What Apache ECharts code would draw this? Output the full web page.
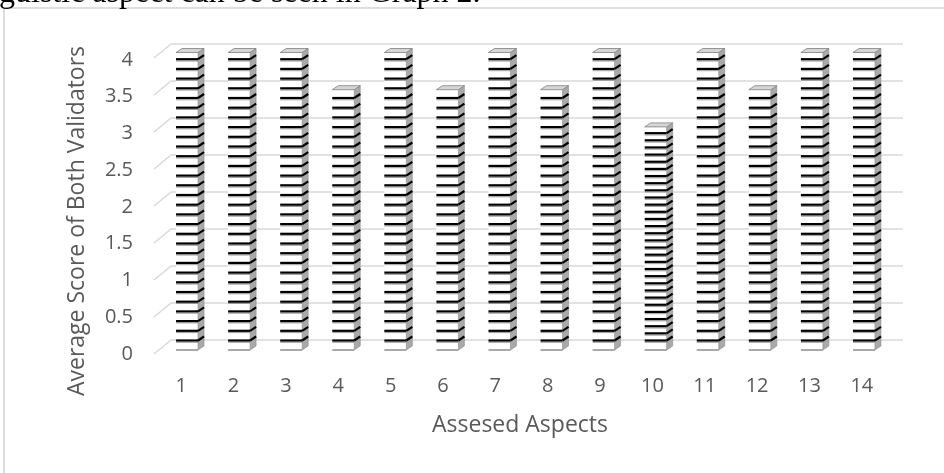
<!DOCTYPE html>
<html>
<head>
<meta charset="utf-8">
<script src="https://cdn.jsdelivr.net/npm/echarts@6/dist/echarts.min.js"></script>
<style>
    html, body { margin: 0; padding: 0; background: #fff; }
    #chart { width: 944px; height: 473px; }
</style>
</head>
<body>
<div id="chart"></div>
<script>
// data
const aspects = ['1', '2', '3', '4', '5', '6', '7', '8', '9', '10', '11', '12', '13', '14'];
const avgScores = [4, 4, 4, 3.5, 4, 3.5, 4, 3.5, 4, 3, 4, 3.5, 4, 4];
const yTicks = [0, 0.5, 1, 1.5, 2, 2.5, 3, 3.5, 4];

// look
const textColor = '#595959';
const gridColor = '#d9d9d9';
const font = 'Open Sans';
const fontSize = 20;
const titleSize = 23;
// stripe spacing of the hatch fill, bar 10 is drawn denser in the original
const stripeGap = { 9: 7.15 };

const chart = echarts.init(document.getElementById('chart'));

// 3d-ish column: white front with black stripes, grey side, grey top
const renderBar = (params, api) => {
    const i = api.value(0);
    const top = api.coord([i, api.value(1)]);
    const base = api.coord([i, 0]);
    const l = top[0] - 11, r = top[0] + 11;
    const yt = top[1], yb = base[1];
    const sx = 6, sy = -4;
    const children = [
        { type: 'rect', shape: { x: l, y: yt, width: r - l, height: yb - yt }, style: { fill: '#fff' } },
        {
            type: 'polygon',
            shape: { points: [[r, yt], [r + sx, yt + sy], [r + sx, yb + sy], [r, yb]] },
            style: { fill: '#a9a9a9', stroke: '#8c8c8c', lineWidth: 0.6 }
        },
        {
            type: 'polygon',
            shape: { points: [[l, yt], [l + sx, yt + sy], [r + sx, yt + sy], [r, yt]] },
            style: { fill: '#d6d6d6', stroke: '#7f7f7f', lineWidth: 0.8 }
        }
    ];
    const gap = stripeGap[i] || 9.7;
    for (let y = yb - 9.5; y > yt + 4; y -= gap) {
        // soft grey shadow under each stripe
        children.push({ type: 'line', shape: { x1: l, y1: y + 1.8, x2: r, y2: y + 1.8 }, style: { stroke: '#9a9a9a', lineWidth: 1 } });
        children.push({ type: 'line', shape: { x1: l, y1: y, x2: r, y2: y }, style: { stroke: '#000', lineWidth: 2.2 } });
        children.push({ type: 'line', shape: { x1: r, y1: y, x2: r + sx, y2: y + sy }, style: { stroke: '#000', lineWidth: 2.2 } });
    }
    children.push({ type: 'line', shape: { x1: l, y1: yb, x2: r, y2: yb }, style: { stroke: '#8c8c8c', lineWidth: 1.5 } });
    return { type: 'group', children };
};

// short floor lines from the front edge up to the back wall gridlines
const renderFloorTick = (params, api) => {
    const p = api.coord([0, api.value(1)]);
    const x0 = params.coordSys.x;
    return {
        type: 'line',
        shape: { x1: x0 - 17, y1: p[1] + 14, x2: x0, y2: p[1] },
        style: { stroke: gridColor, lineWidth: 1.5 }
    };
};

const option = {
    animation: false,
    backgroundColor: '#fff',
    textStyle: { fontFamily: font },
    grid: [
        // front edge: labels
        { left: 155, right: 56, top: 60, bottom: 119 },
        // back wall: gridlines
        { left: 171, right: 41, top: 44, bottom: 133 },
        // plane of the bar fronts
        { left: 161, right: 54, top: 52.5, bottom: 123 }
    ],
    xAxis: [
        {
            gridIndex: 0,
            type: 'category',
            data: aspects,
            axisLine: { show: false },
            axisTick: { show: false },
            axisLabel: { color: textColor, fontSize: fontSize, fontFamily: font, margin: 22 }
        },
        { gridIndex: 1, type: 'category', data: aspects, show: false },
        { gridIndex: 2, type: 'category', data: aspects, show: false }
    ],
    yAxis: [
        {
            gridIndex: 0,
            type: 'value',
            min: 0,
            max: 4,
            interval: 0.5,
            splitLine: { show: false },
            axisLabel: { color: textColor, fontSize: fontSize, fontFamily: font, margin: 22, padding: [6, 0, 0, 0] }
        },
        {
            gridIndex: 1,
            type: 'value',
            min: 0,
            max: 4,
            interval: 0.5,
            axisLabel: { show: false },
            splitLine: { lineStyle: { color: gridColor, width: 1.5 } }
        },
        { gridIndex: 2, type: 'value', min: 0, max: 4, interval: 0.5, show: false }
    ],
    series: [
        {
            type: 'custom',
            xAxisIndex: 1,
            yAxisIndex: 1,
            renderItem: renderFloorTick,
            data: yTicks.map(v => [0, v]),
            silent: true
        },
        {
            type: 'custom',
            xAxisIndex: 2,
            yAxisIndex: 2,
            renderItem: renderBar,
            data: avgScores.map((v, i) => [i, v]),
            z: 5
        }
    ],
    graphic: [
        {
            type: 'rect',
            shape: { x: 4, y: 8, width: 960, height: 480 },
            style: { fill: 'none', stroke: '#d4d4d4', lineWidth: 1.5 }
        },
        {
            type: 'text',
            left: -1,
            top: -22,
            style: { text: 'guistic aspect can be seen in Graph 2.', font: '32px "Liberation Serif"', fill: '#000' }
        },
        {
            type: 'text',
            x: 77,
            y: 221,
            rotation: Math.PI / 2,
            style: {
                text: 'Average Score of Both Validators',
                font: titleSize + 'px "' + font + '"',
                fill: textColor,
                align: 'center',
                verticalAlign: 'middle'
            }
        },
        {
            type: 'text',
            x: 520,
            y: 425,
            style: {
                text: 'Assesed Aspects',
                font: titleSize + 'px "' + font + '"',
                fill: textColor,
                align: 'center',
                verticalAlign: 'middle'
            }
        }
    ]
};

chart.setOption(option);
</script>
</body>
</html>
